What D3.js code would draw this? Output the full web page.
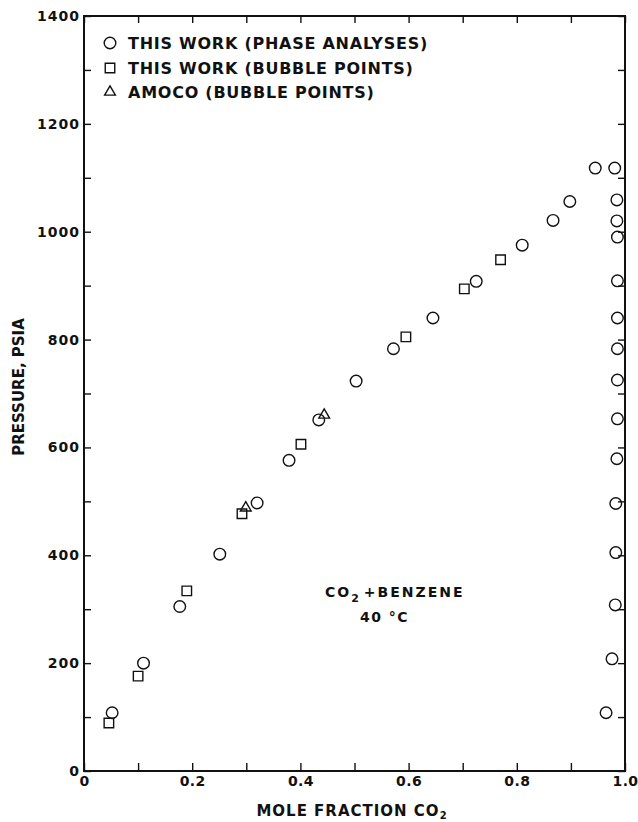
<!DOCTYPE html>
<html>
<head>
<meta charset="utf-8">
<script src="https://cdn.jsdelivr.net/npm/d3@7"></script>
<style>
  html, body { margin: 0; padding: 0; background: #fff; }
  svg text { font-family: "DejaVu Sans", sans-serif; font-weight: bold; fill: #111; }
</style>
</head>
<body>
<svg id="chart" width="638" height="822"></svg>
<script>
// ---- data ----
// phase analyses (circles): liquid branch then vapour branch
const phaseX = [0.052, 0.110, 0.177, 0.251, 0.320, 0.379, 0.434, 0.503, 0.572, 0.645, 0.725, 0.810, 0.867, 0.898, 0.945,
                0.981, 0.985, 0.985, 0.986, 0.986, 0.986, 0.986, 0.986, 0.986, 0.985, 0.983, 0.983, 0.982, 0.976, 0.965];
const phaseP = [108, 200, 305, 402, 497, 576, 651, 723, 783, 840, 908, 975, 1021, 1056, 1118,
                1118, 1059, 1020, 990, 909, 840, 783, 725, 653, 579, 496, 405, 308, 208, 108];
// this work bubble points (squares)
const bubbleX = [0.046, 0.100, 0.190, 0.292, 0.401, 0.595, 0.703, 0.770];
const bubbleP = [89, 176, 334, 477, 606, 805, 894, 948];
// Amoco bubble points (triangles)
const amocoX = [0.299, 0.444];
const amocoP = [488, 660];

const xTickValues = [0, 0.2, 0.4, 0.6, 0.8, 1.0];
const xTickLabels = ["0", "0.2", "0.4", "0.6", "0.8", "1.0"];
const xMinorValues = [0, 0.1, 0.2, 0.3, 0.4, 0.5, 0.6, 0.7, 0.8, 0.9, 1.0];
const yTickValues = [0, 200, 400, 600, 800, 1000, 1200, 1400];
const yMinorValues = [0, 100, 200, 300, 400, 500, 600, 700, 800, 900, 1000, 1100, 1200, 1300, 1400];
const legendLabels = ["THIS WORK (PHASE ANALYSES)", "THIS WORK (BUBBLE POINTS)", "AMOCO (BUBBLE POINTS)"];

// ---- layout ----
const svg = d3.select("#chart");
const pL = 84, pR = 625, pT = 16, pB = 771;
const x = d3.scaleLinear().domain([0, 1]).range([pL, pR]);
const y = d3.scaleLinear().domain([0, 1400]).range([pB, pT]);
const ink = "#111";

function styleAxis(g, spacing) {
  g.select(".domain").remove();
  g.selectAll(".tick line").attr("stroke", ink).attr("stroke-width", 1.4);
  g.selectAll(".tick text").attr("fill", ink).style("font-size", "14px").style("letter-spacing", spacing || "1px");
}

// bottom axis with labels, ticks inward
svg.append("g").attr("transform", `translate(0,${pB})`)
  .call(d3.axisBottom(x).tickValues(xMinorValues).tickSizeInner(-8).tickSizeOuter(0).tickPadding(5)
        .tickFormat(d => { const i = xTickValues.findIndex(v => Math.abs(v - d) < 1e-9); return i >= 0 ? xTickLabels[i] : ""; }))
  .call(g => styleAxis(g, "0.4px"));
// top axis ticks
svg.append("g").attr("transform", `translate(0,${pT})`)
  .call(d3.axisTop(x).tickValues(xMinorValues).tickSizeInner(-7).tickSizeOuter(0).tickFormat(""))
  .call(g => styleAxis(g));
// left axis with labels
svg.append("g").attr("transform", `translate(${pL},0)`)
  .call(d3.axisLeft(y).tickValues(yMinorValues).tickSizeInner(-7).tickSizeOuter(0).tickPadding(4)
        .tickFormat(d => yTickValues.includes(d) ? String(d) : ""))
  .call(g => styleAxis(g, "1px"));
// right axis ticks
svg.append("g").attr("transform", `translate(${pR},0)`)
  .call(d3.axisRight(y).tickValues(yMinorValues).tickSizeInner(-7).tickSizeOuter(0).tickFormat(""))
  .call(g => styleAxis(g));

// frame
svg.append("rect").attr("x", pL).attr("y", pT).attr("width", pR - pL).attr("height", pB - pT)
  .attr("fill", "none").attr("stroke", ink).attr("stroke-width", 2);

// markers
const sw = 1.4;
const circleSym = d3.symbol().type(d3.symbolCircle).size(Math.PI * 5.8 * 5.8);
const squareSym = d3.symbol().type(d3.symbolSquare).size(9.5 * 9.5);
const triSym = d3.symbol().type(d3.symbolTriangle).size(50);

svg.append("g").selectAll("path").data(phaseX.map((v, i) => [v, phaseP[i]])).join("path")
  .attr("d", circleSym).attr("transform", d => `translate(${x(d[0])},${y(d[1])})`)
  .attr("fill", "none").attr("stroke", ink).attr("stroke-width", sw);
svg.append("g").selectAll("path").data(bubbleX.map((v, i) => [v, bubbleP[i]])).join("path")
  .attr("d", squareSym).attr("transform", d => `translate(${x(d[0])},${y(d[1])})`)
  .attr("fill", "none").attr("stroke", ink).attr("stroke-width", sw);
svg.append("g").selectAll("path").data(amocoX.map((v, i) => [v, amocoP[i]])).join("path")
  .attr("d", triSym).attr("transform", d => `translate(${x(d[0])},${y(d[1])})`)
  .attr("fill", "none").attr("stroke", ink).attr("stroke-width", sw);

// legend
const legSyms = [circleSym, squareSym, triSym];
const legY = [43, 68, 92];
legendLabels.forEach((lab, i) => {
  svg.append("path").attr("d", legSyms[i]).attr("transform", `translate(110,${legY[i]})`)
    .attr("fill", "none").attr("stroke", ink).attr("stroke-width", sw);
  svg.append("text").attr("x", 128).attr("y", legY[i] + 6)
    .style("font-size", "16px").style("letter-spacing", "0.75px").text(lab);
});

// axis titles
svg.append("text").attr("transform", "translate(23.5,387) rotate(-90)").attr("text-anchor", "middle")
  .style("font-size", "15px").text("PRESSURE, PSIA");
const xt = svg.append("text").attr("x", 352).attr("y", 816).attr("text-anchor", "middle")
  .style("font-size", "15px").style("letter-spacing", "1px");
xt.append("tspan").text("MOLE FRACTION CO");
xt.append("tspan").attr("dy", 3).style("font-size", "10px").text("2");

// annotation
const an = svg.append("text").attr("x", 325).attr("y", 597).style("font-size", "14px").style("letter-spacing", "2px");
an.append("tspan").text("CO");
an.append("tspan").attr("dy", 5).style("font-size", "11px").text("2");
an.append("tspan").attr("dy", -5).attr("dx", 3).text("+BENZENE");
svg.append("text").attr("x", 360).attr("y", 622).style("font-size", "14px").style("letter-spacing", "1.5px").text("40 °C");
</script>
</body>
</html>
